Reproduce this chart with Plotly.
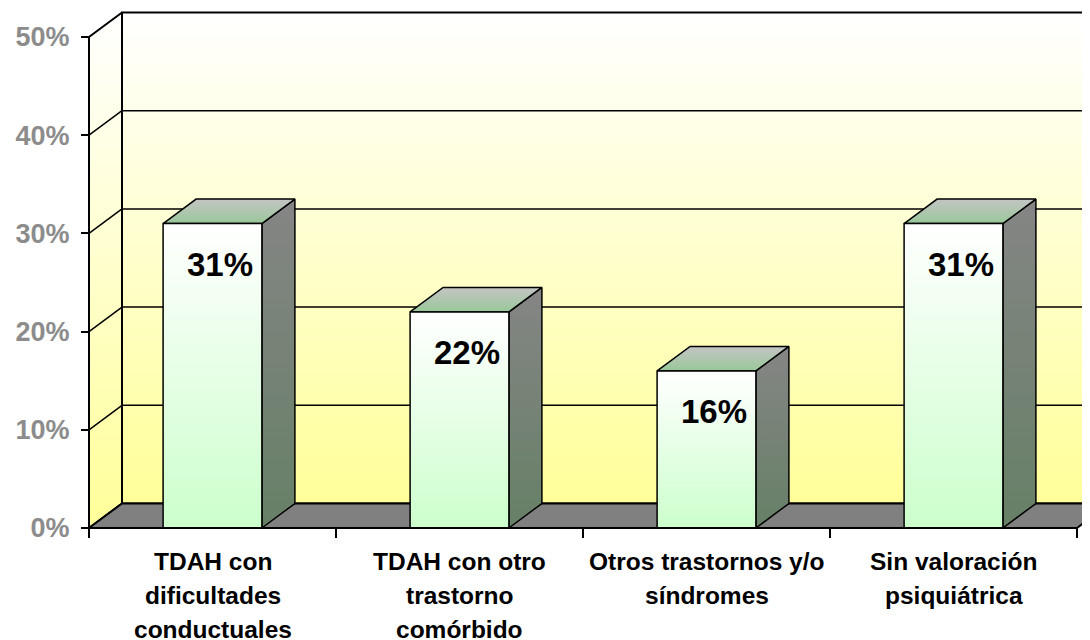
import plotly.graph_objects as go

# ---------------- data ----------------
categories = [
    "TDAH con<br>dificultades<br>conductuales",
    "TDAH con otro<br>trastorno<br>comórbido",
    "Otros trastornos y/o<br>síndromes",
    "Sin valoración<br>psiquiátrica",
]
values = [31, 22, 16, 31]
value_labels = ["31%", "22%", "16%", "31%"]
y_ticks = [0, 10, 20, 30, 40, 50]
y_tick_labels = ["0%", "10%", "20%", "30%", "40%", "50%"]

# ---------------- geometry / style ----------------
PAGE_OFF = 8          # default body margin of the html page
FIG_W, FIG_H = 1090 - PAGE_OFF, 640 - PAGE_OFF
ML, MB = 79 - PAGE_OFF, 100
AXIS_PX = 89 - PAGE_OFF       # pixel column of the front value axis
ZERO_PY = 528 - PAGE_OFF      # pixel row of the 0 level
PX_CAT = 247.0        # pixels per category
PX_PCT = 9.82         # pixels per percentage point
DX = 33 / PX_CAT      # 3-D depth, in x units
DY = 24.5 / PX_PCT    # 3-D depth, in y units
BAR_W = 0.4
N = len(categories)
X_LEFT, X_RIGHT = -0.5, N - 0.5
Y_TOP = max(y_ticks)

plot_w = FIG_W - ML
plot_h = FIG_H - MB
x0 = X_LEFT - (AXIS_PX - ML) / PX_CAT
x_range = [x0, x0 + plot_w / PX_CAT]
y_range = [-(plot_h - ZERO_PY) / PX_PCT, ZERO_PY / PX_PCT]

FONT = "Liberation Sans, Arial, sans-serif"
EDGE = "black"

fig = go.Figure()


def poly(xs, ys, bottom=None, top=None, color=None, lw=1.5, lc=EDGE):
    xs = list(xs) + [xs[0]]
    ys = list(ys) + [ys[0]]
    kw = dict(x=xs, y=ys, mode="lines", fill="toself",
              line=dict(color=lc, width=lw), hoverinfo="skip", showlegend=False)
    if bottom is not None:
        kw["fillgradient"] = dict(type="vertical",
                                  colorscale=[[0, bottom], [1, top]])
    else:
        kw["fillcolor"] = color
    fig.add_trace(go.Scatter(**kw))


def lines(segs, lw=1.5):
    xs, ys = [], []
    for (xa, ya, xb, yb) in segs:
        xs += [xa, xb, None]
        ys += [ya, yb, None]
    fig.add_trace(go.Scatter(x=xs, y=ys, mode="lines",
                             line=dict(color=EDGE, width=lw),
                             hoverinfo="skip", showlegend=False))


# back wall
poly([X_LEFT + DX, X_RIGHT + DX + 0.2, X_RIGHT + DX + 0.2, X_LEFT + DX],
     [DY, DY, Y_TOP + DY, Y_TOP + DY], bottom="#FFFF99", top="#FFFFFF", lw=2)
# left side wall
poly([X_LEFT, X_LEFT + DX, X_LEFT + DX, X_LEFT],
     [0, DY, Y_TOP + DY, Y_TOP], bottom="#FFFF99", top="#FFFFFF", lw=2)

# gridlines on the walls
segs = []
for t in y_ticks[1:-1]:
    segs.append((X_LEFT, t, X_LEFT + DX, t + DY))
    segs.append((X_LEFT + DX, t + DY, X_RIGHT + DX + 0.2, t + DY))
lines(segs, lw=1.5)

# floor
poly([X_LEFT, X_RIGHT, X_RIGHT + DX, X_LEFT + DX],
     [0, 0, DY, DY], color="#808080", lw=2)

# bars
for i, v in enumerate(values):
    xl, xr = i - BAR_W / 2, i + BAR_W / 2
    # side face
    poly([xr, xr + DX, xr + DX, xr], [0, DY, v + DY, v],
         bottom="#668066", top="#858585", lw=1.5)
    # top face
    poly([xl, xr, xr + DX, xl + DX], [v, v, v + DY, v + DY],
         bottom="#99C899", top="#C4C4C4", lw=1.5)
    # front face
    poly([xl, xr, xr, xl], [0, 0, v, v],
         bottom="#CCFFCC", top="#FFFFFF", lw=1.5)

# front value axis line and front floor edge
lines([(X_LEFT, 0, X_LEFT, Y_TOP)], lw=2)
lines([(X_LEFT, 0, X_RIGHT, 0)], lw=2)

annotations = []
for i, (v, lab) in enumerate(zip(values, value_labels)):
    annotations.append(dict(
        x=i, y=v, xref="x", yref="y", text=f"<b>{lab}</b>", showarrow=False,
        xanchor="center", yanchor="middle", xshift=7, yshift=-41,
        font=dict(family=FONT, size=33, color="black")))

LINE_CENTERS = [561 - PAGE_OFF, 595 - PAGE_OFF, 629 - PAGE_OFF]
for i, cat in enumerate(categories):
    for k, line in enumerate(cat.split("<br>")):
        annotations.append(dict(
            x=i, y=0, xref="x", yref="paper", text=f"<b>{line}</b>",
            showarrow=False, xanchor="center", yanchor="middle",
            yshift=-(LINE_CENTERS[k] - plot_h),
            font=dict(family=FONT, size=24.5, color="black")))

fig.update_layout(
    width=FIG_W, height=FIG_H,
    margin=dict(l=ML, r=0, t=0, b=MB, pad=0, autoexpand=False),
    paper_bgcolor="white", plot_bgcolor="white",
    showlegend=False,
    annotations=annotations,
    xaxis=dict(range=x_range, showgrid=False, zeroline=False, showline=False,
               tickmode="array", tickvals=[X_LEFT + k for k in range(N + 1)],
               ticktext=[""] * (N + 1), ticks="outside", ticklen=9,
               tickwidth=1.5, tickcolor="black",
               anchor="free", position=(plot_h - ZERO_PY) / plot_h,
               fixedrange=True, automargin=False),
    yaxis=dict(range=y_range, showgrid=False, zeroline=False, showline=False,
               tickmode="array", tickvals=y_ticks, ticktext=y_tick_labels,
               ticks="outside", ticklen=8, tickwidth=1.5, tickcolor="black",
               ticklabelstandoff=6,
               tickfont=dict(family=FONT, size=27, color="#8C8C8C",
                             weight="bold"),
               anchor="free", position=(AXIS_PX - ML) / plot_w,
               fixedrange=True, automargin=False),
)

fig.write_html("out.html")
